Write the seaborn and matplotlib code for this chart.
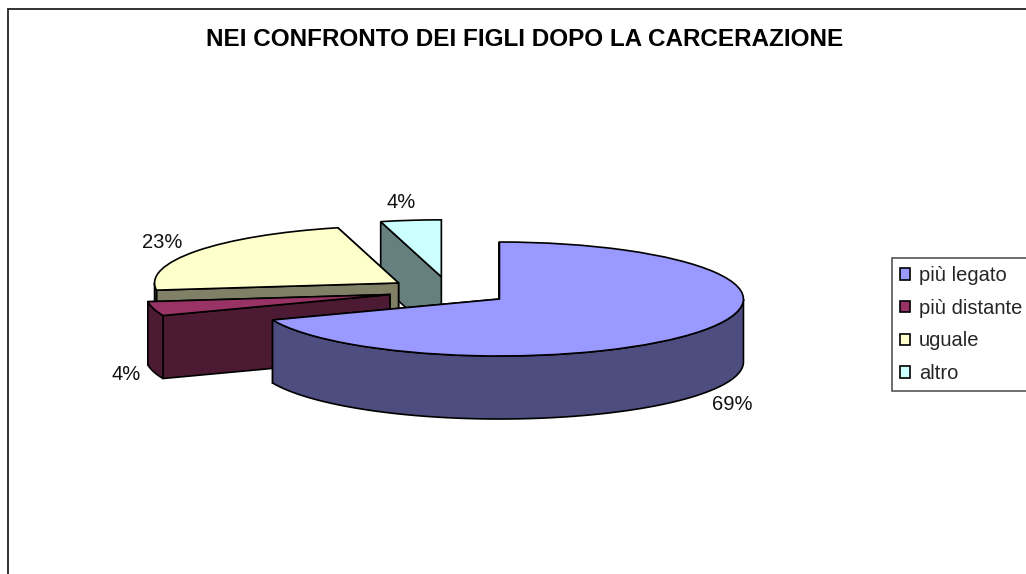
import numpy as np
import seaborn as sns
import matplotlib.pyplot as plt
from matplotlib.colors import to_rgb
from matplotlib.patches import Polygon, Rectangle

categories = ['più legato', 'più distante', 'uguale', 'altro']
values = [69, 4, 23, 4]
colors = ['#9999FF', '#993366', '#FFFFCC', '#CCFFFF']
title = 'NEI CONFRONTO DEI FIGLI DOPO LA CARCERAZIONE'

W, H = 1026, 574
# pie centre and ellipse size in pixels
CX, CY, RX, RY = 449, 291, 244, 57
DEPTH = 63 / RY

sns.set_theme(style='white')
plt.rcParams['font.family'] = ['Liberation Sans', 'DejaVu Sans']


def px(x, y):
    return (x - CX) / RX, (CY - y) / RY


fig = plt.figure(figsize=(W / 100, H / 100), dpi=100)
ax = fig.add_axes([0, 0, 1, 1])

wedges, texts, pct = ax.pie(values, explode=[0.25] * 4, startangle=90, counterclock=False,
                            colors=colors, autopct='%.0f%%', frame=False,
                            wedgeprops=dict(edgecolor='black', linewidth=1.2),
                            textprops=dict(fontsize=14.5, color='#111111'))
ax.set_aspect('auto')
ax.set_xlim(px(0, 0)[0], px(W, 0)[0])
ax.set_ylim(px(0, H)[1], px(0, 0)[1])


def side(points, color, z):
    pts = np.array(points)
    low = pts[::-1] - [0, DEPTH]
    ax.add_patch(Polygon(np.vstack([pts, low]), closed=True, facecolor=color,
                         edgecolor='black', linewidth=1.2, zorder=z))


# back slices first, so the nearer ones cover them
for z, w in zip([10, 20, 30, 40], [wedges[3], wedges[2], wedges[1], wedges[0]]):
    shade = np.array(to_rgb(w.get_facecolor())) * 0.5
    c = np.array(w.center)
    edges = sorted([w.theta1, w.theta2], key=lambda a: -np.sin(np.radians(a)))
    for i, a in enumerate(edges):
        tip = c + [np.cos(np.radians(a)), np.sin(np.radians(a))]
        side([c, tip], shade, z + i)
    t1, t2 = w.theta1 % 360, w.theta1 % 360 + (w.theta2 - w.theta1)
    lo, hi = max(t1, 180), min(t2, 360)
    if hi > lo:
        ang = np.radians(np.linspace(lo, hi, 80))
        side(np.column_stack([c[0] + np.cos(ang), c[1] + np.sin(ang)]), shade, z + 3)
    w.set_zorder(z + 5)

label_pos = [(732, 405), (126, 374), (162, 243), (401, 203)]
for t, pos in zip(pct, label_pos):
    t.set_position(px(*pos))
    t.set_zorder(60)

fig.add_artist(Rectangle((8 / W, -0.1), 1.1, 1.1 - 9 / H, transform=fig.transFigure,
                         facecolor='none', edgecolor='#222222', linewidth=1.3))

fig.text(525 / W, 1 - 40 / H, title, ha='center', va='center', fontsize=17.5,
         fontweight='bold', color='black')

leg = ax.legend(wedges, categories, loc='upper left', bbox_to_anchor=(892 / W, 1 - 258 / H),
                bbox_transform=fig.transFigure, borderaxespad=0, fontsize=14.5, fancybox=False,
                framealpha=1, edgecolor='#555555', borderpad=0.4, handlelength=0.5,
                handleheight=0.5, handletextpad=0.45, labelspacing=0.68)
leg.set_zorder(70)
leg.get_frame().set_linewidth(1.2)

fig.savefig('out.png', dpi=100, facecolor='white')
